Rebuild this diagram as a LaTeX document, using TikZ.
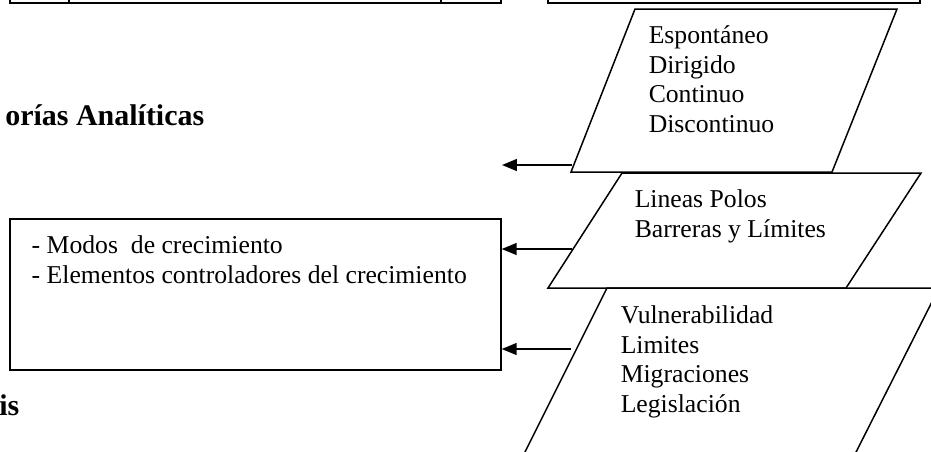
\documentclass[tikz,border=0pt]{standalone}
\usepackage{fontspec}
\setmainfont{Liberation Serif}
\usetikzlibrary{arrows.meta}
\begin{document}
\begin{tikzpicture}[x=0.46724pt,y=-0.46724pt, line width=0.7pt,
  txt/.style={anchor=base west, inner sep=0pt, font=\fontsize{12}{13.8}\selectfont},
  ttl/.style={anchor=base east, inner sep=0pt, font=\fontsize{14}{16}\selectfont\bfseries},
  arr/.style={-{Triangle[length=7pt,width=5.6pt]}},
  mainbox/.style={draw, inner sep=0pt, minimum width=229.4pt, minimum height=70.6pt}]
\useasboundingbox (0,0) rectangle (931,451);
\clip (0,0) rectangle (931,451);
% top boxes (cut by the page edge)
\draw (10,-10) -- (10,3) -- (501,3) -- (501,-10);
\draw (69,-10) -- (69,3);
\draw (441,-10) -- (441,3);
\draw (548,-10) -- (548,3) -- (920,3) -- (920,-10);
% titles
\node[ttl] (t1) at (205,125) {orías Analíticas};
\node[ttl] (t2) at (20,415) {is};
% main box
\node[mainbox] (box) at (255.5,294.5) {};
\node[txt] (b1) at (31,253) {- Modos\ \ de crecimiento};
\node[txt] (b2) at (31,283) {- Elementos controladores del crecimiento};
% parallelogram 1
\coordinate (p1a) at (635,9);
\coordinate (p1b) at (897,9);
\coordinate (p1c) at (832,172);
\coordinate (p1d) at (571,172);
\draw (p1a) -- (p1b) -- (p1c) -- (p1d) -- cycle;
\node[txt] (e1) at (648,43) {Espontáneo};
\node[txt] (e2) at (648,73) {Dirigido};
\node[txt] (e3) at (648,102) {Continuo};
\node[txt] (e4) at (648,132) {Discontinuo};
% parallelogram 2
\coordinate (p2a) at (622,173);
\coordinate (p2b) at (921,173);
\coordinate (p2c) at (846,288);
\coordinate (p2d) at (548,288);
\draw (p2a) -- (p2b) -- (p2c) -- (p2d) -- cycle;
\node[txt] (l1) at (634,207) {Lineas Polos};
\node[txt] (l2) at (634,237) {Barreras y Límites};
% parallelogram 3
\coordinate (p3a) at (607,288);
\coordinate (p3b) at (939,288);
\coordinate (p3c) at (851,462);
\coordinate (p3d) at (520,462);
\draw (p3a) -- (p3b) -- (p3c) -- (p3d) -- cycle;
\node[txt] (v1) at (620,323) {Vulnerabilidad};
\node[txt] (v2) at (620,353) {Limites};
\node[txt] (v3) at (620,382) {Migraciones};
\node[txt] (v4) at (620,412) {Legislación};
% arrows
\coordinate (s1) at (572,165);
\coordinate (f1) at (502,165);
\coordinate (s2) at (572,249);
\coordinate (s3) at (571,349);
\draw[arr] (s1) -- (f1);
\draw[arr] (s2) -- (s2 -| box.east);
\draw[arr] (s3) -- (s3 -| box.east);
\end{tikzpicture}
\end{document}
